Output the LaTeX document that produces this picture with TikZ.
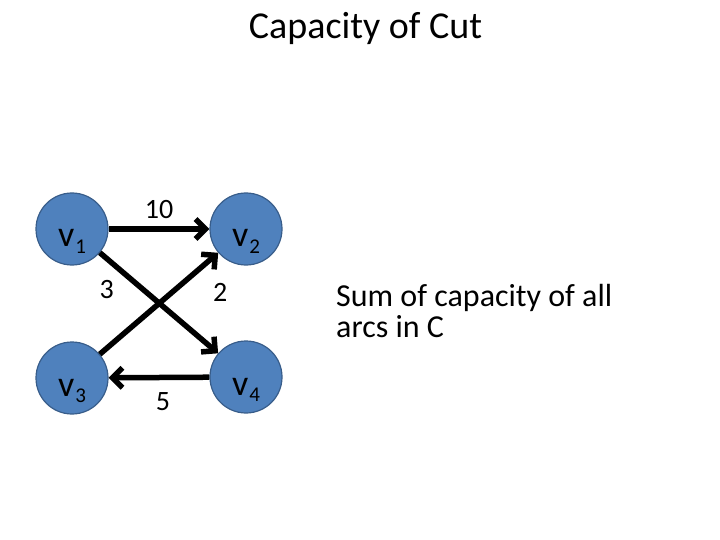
\documentclass[tikz,border=0pt]{standalone}
\usepackage{fontspec}
\setmainfont{Carlito}
\usepackage{xcolor}
\usetikzlibrary{arrows.meta, positioning}

\definecolor{vfill}{HTML}{4F81BD}
\definecolor{vdraw}{HTML}{385D8A}

\newcommand{\vlab}[1]{v\kern1pt\raisebox{-6pt}{\fontsize{21}{21}\selectfont #1}}

\begin{document}
\begin{tikzpicture}[
  x=1pt, y=-1pt,
  vert/.style  = {circle, draw=vdraw, line width=1.2pt, fill=vfill,
                  minimum size=72pt, inner sep=0pt, text height=36pt, text depth=0pt,
                  font=\fontsize{36}{36}\selectfont},
  weight/.style= {font=\fontsize{28}{28}\selectfont, inner sep=0pt},
  arr/.style   = {-{Straight Barb[length=10pt, width=20pt]}, line width=5.5pt}
]
\useasboundingbox (0,0) rectangle (720,540);

\node[anchor=base, font=\fontsize{38}{38}\selectfont] (title) at (365.5,39) {Capacity of Cut};

\node[vert] (v1) at (72,229)  {\vlab{1}};
\node[vert] (v2) at (246,229) {\vlab{2}};
\node[vert] (v3) at (72,378)  {\vlab{3}};
\node[vert] (v4) at (246,377) {\vlab{4}};

% arcs
\draw[arr] (v1) -- node[weight, above=8pt]{10} (v2);
\draw[arr] (v1) -- node[weight, pos=0.15, below left=10pt and 1pt]{3} (v4);
\draw[arr] (v3) -- node[weight, pos=0.9, below right=18pt and 4pt]{2} (v2);
\draw[arr] (v4) -- node[weight, below=12pt, xshift=4pt]{5} (v3);

\node[anchor=base west, align=left, inner sep=0pt,
      font=\fontsize{32}{31}\selectfont] (sum) at (336,337.7)
  {Sum of capacity of all\\arcs in C};

\end{tikzpicture}
\end{document}
